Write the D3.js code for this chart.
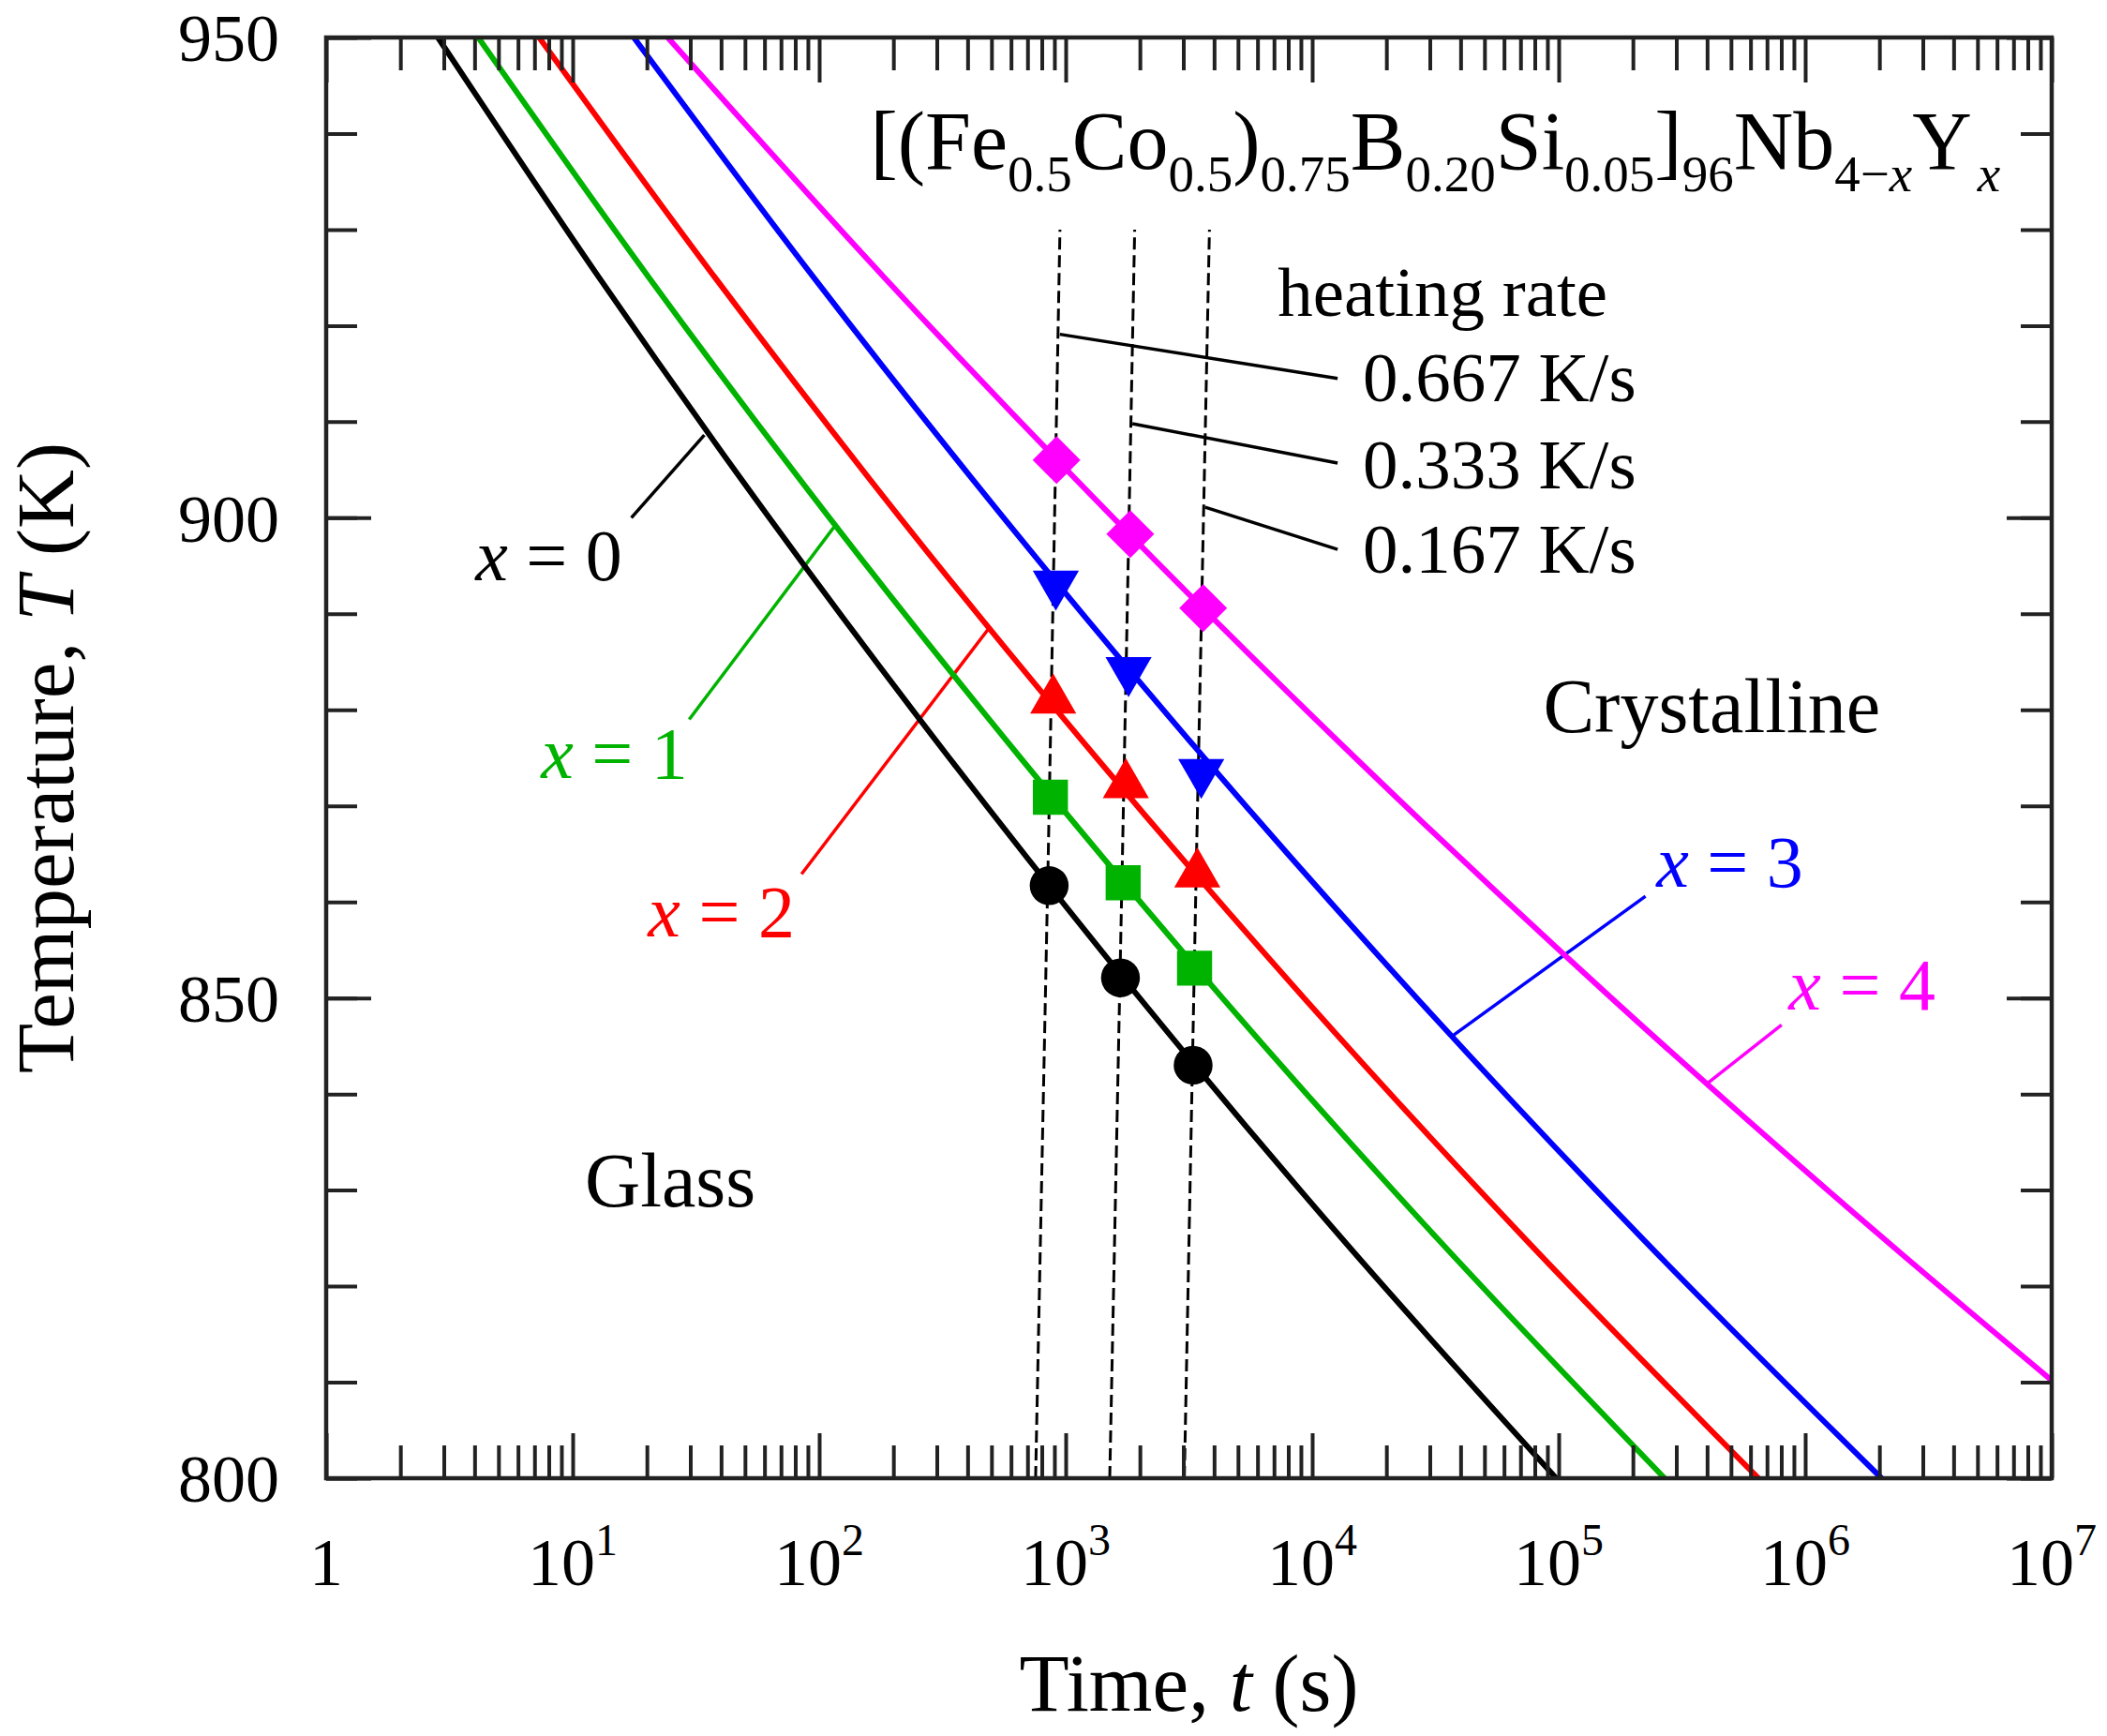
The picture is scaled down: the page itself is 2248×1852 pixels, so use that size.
<!DOCTYPE html>
<html>
<head>
<meta charset="utf-8">
<script src="https://cdn.jsdelivr.net/npm/d3@7"></script>
<style>
  body { margin: 0; background: #fff; }
  svg { display: block; }
  text { font-family: "Liberation Serif", "Times New Roman", serif; fill: #000; }
</style>
</head>
<body>
<div id="chart"></div>
<script>
// Canvas
const width = 2248;
const height = 1852;
const plot = { left: 348, right: 2189, top: 40, bottom: 1577 };

// Series: x in [(Fe0.5Co0.5)0.75B0.20Si0.05]96Nb4-xYx
const seriesX = ["0", "1", "2", "3", "4"];
const seriesColor = ["#000000", "#00b300", "#ff0000", "#0000ff", "#ff00ff"];
const seriesSymbol = ["circle", "square", "triUp", "triDown", "diamond"];

// Curves: temperature (K) and time (s)
const tempGrid = [950, 925, 900, 875, 850, 825, 800];
const tempGridX4 = [950, 925, 900, 875, 850, 825, 810];
const timeX0 = [2.84, 12.8, 62.7, 337, 1995, 13150, 97700];
const timeX1 = [4.14, 20.4, 110, 656, 4325, 32060, 269000];
const timeX2 = [7.31, 37.8, 213, 1334, 9268, 72600, 645700];
const timeX3 = [17.7, 95.1, 560, 3648, 26550, 217800, 2040000];
const timeX4 = [24.3, 184, 1560, 14960, 163700, 2070000, 10200000];

// Measured points (onset of crystallisation) at the three heating rates
const markTimeX0 = [857, 1668, 3289];
const markTempX0 = [861.7, 852.1, 843.0];
const markTimeX1 = [867, 1711, 3333];
const markTempX1 = [870.9, 862.0, 853.1];
const markTimeX2 = [890, 1754, 3420];
const markTempX2 = [881.0, 872.2, 862.9];
const markTimeX3 = [912, 1799, 3548];
const markTempX3 = [893.1, 884.1, 873.5];
const markTimeX4 = [918, 1829, 3612];
const markTempX4 = [906.0, 898.3, 890.6];

// Heating paths (dashed)
const heatingRates = ["0.667", "0.333", "0.167"];
const heatTemp = [800, 865, 930];
const heatTime667 = [755, 850, 948];
const heatTime333 = [1509, 1700, 1905];
const heatTime167 = [3030, 3395, 3830];

// Ticks
const yMajor = [800, 850, 900, 950];
const yMinor = d3.range(800, 951, 10);
const xMajor = d3.range(0, 8).map(e => Math.pow(10, e));
const xMinor = d3.range(0, 7).flatMap(e => d3.range(2, 10).map(m => m * Math.pow(10, e)));

const curves = [
  { temp: tempGrid, time: timeX0 },
  { temp: tempGrid, time: timeX1 },
  { temp: tempGrid, time: timeX2 },
  { temp: tempGrid, time: timeX3 },
  { temp: tempGridX4, time: timeX4 }
];
const marks = [
  { time: markTimeX0, temp: markTempX0 },
  { time: markTimeX1, temp: markTempX1 },
  { time: markTimeX2, temp: markTempX2 },
  { time: markTimeX3, temp: markTempX3 },
  { time: markTimeX4, temp: markTempX4 }
];
const heatPaths = [heatTime667, heatTime333, heatTime167];

// Scales
const x = d3.scaleLog().domain([1, 1e7]).range([plot.left, plot.right]);
const y = d3.scaleLinear().domain([800, 950]).range([plot.bottom, plot.top]);

const svg = d3.select("#chart")
  .append("svg")
  .attr("width", width)
  .attr("height", height)
  .attr("viewBox", `0 0 ${width} ${height}`);

svg.append("clipPath").attr("id", "clip")
  .append("rect")
  .attr("x", plot.left).attr("y", plot.top)
  .attr("width", plot.right - plot.left).attr("height", plot.bottom - plot.top);

const inner = svg.append("g").attr("clip-path", "url(#clip)");

// Dashed heating lines
const line = d3.line().x(d => x(d[0])).y(d => y(d[1]));
heatPaths.forEach(times => {
  inner.append("path")
    .attr("d", line(times.map((t, i) => [t, heatTemp[i]])))
    .attr("fill", "none")
    .attr("stroke", "#000")
    .attr("stroke-width", 3)
    .attr("stroke-dasharray", "13,6");
});

// Leader lines: heating rate labels
const rateLeaders = [
  [[947, 919.1], [12680, 914.5]],
  [[1864, 909.8], [12680, 905.7]],
  [[3681, 901.1], [12680, 896.7]]
];
rateLeaders.forEach(pts => {
  inner.append("path")
    .attr("d", line(pts))
    .attr("stroke", "#000")
    .attr("stroke-width", 3.5)
    .attr("fill", "none");
});

// Leader lines: series labels
const seriesLeaders = [
  [[17.3, 900.0], [34.2, 908.6]],
  [[29.7, 879.0], [114.6, 899.0]],
  [[84.8, 862.9], [485, 888.4]],
  [[225000, 860.6], [37300, 846.1]],
  [[802000, 847.2], [405000, 841.2]]
];
seriesLeaders.forEach((pts, i) => {
  inner.append("path")
    .attr("d", line(pts))
    .attr("stroke", seriesColor[i])
    .attr("stroke-width", 3.5)
    .attr("fill", "none");
});

// Curves
const curveLine = d3.line()
  .x(d => x(d[0]))
  .y(d => y(d[1]))
  .curve(d3.curveMonotoneX);

curves.forEach((c, i) => {
  inner.append("path")
    .attr("d", curveLine(c.time.map((t, j) => [t, c.temp[j]])))
    .attr("fill", "none")
    .attr("stroke", seriesColor[i])
    .attr("stroke-width", 6);
});

// Markers
function symbolPath(kind) {
  if (kind === "circle") return d3.symbol(d3.symbolCircle, 1350)();
  if (kind === "square") return d3.symbol(d3.symbolSquare, 1400)();
  if (kind === "diamond") return d3.symbol(d3.symbolSquare, 1300)();
  return d3.symbol(d3.symbolTriangle, 1050)();
}
function symbolRotate(kind) {
  if (kind === "diamond") return 45;
  if (kind === "triDown") return 180;
  return 0;
}

marks.forEach((m, i) => {
  const kind = seriesSymbol[i];
  svg.append("g").selectAll("path")
    .data(m.time.map((t, j) => [t, m.temp[j]]))
    .join("path")
    .attr("d", symbolPath(kind))
    .attr("transform", d => `translate(${x(d[0])},${y(d[1])}) rotate(${symbolRotate(kind)})`)
    .attr("fill", seriesColor[i]);
});

// Frame
svg.append("rect")
  .attr("x", plot.left).attr("y", plot.top)
  .attr("width", plot.right - plot.left).attr("height", plot.bottom - plot.top)
  .attr("fill", "none")
  .attr("stroke", "#222")
  .attr("stroke-width", 4.5);

// Ticks (inward, on all four sides)
function tickAxis(axis, pos) {
  svg.append("g")
    .attr("transform", pos)
    .call(axis.tickFormat(""))
    .call(g => g.select(".domain").remove())
    .call(g => g.selectAll(".tick line").attr("stroke", "#222").attr("stroke-width", 4));
}
tickAxis(d3.axisBottom(x).tickValues(xMinor).tickSize(-35), `translate(0,${plot.bottom})`);
tickAxis(d3.axisBottom(x).tickValues(xMajor).tickSize(-48), `translate(0,${plot.bottom})`);
tickAxis(d3.axisTop(x).tickValues(xMinor).tickSize(-35), `translate(0,${plot.top})`);
tickAxis(d3.axisTop(x).tickValues(xMajor).tickSize(-48), `translate(0,${plot.top})`);
tickAxis(d3.axisLeft(y).tickValues(yMinor).tickSize(-33), `translate(${plot.left},0)`);
tickAxis(d3.axisLeft(y).tickValues(yMajor).tickSize(-48), `translate(${plot.left},0)`);
tickAxis(d3.axisRight(y).tickValues(yMinor).tickSize(-33), `translate(${plot.right},0)`);
tickAxis(d3.axisRight(y).tickValues(yMajor).tickSize(-48), `translate(${plot.right},0)`);

// Y tick labels
svg.append("g").selectAll("text")
  .data(yMajor)
  .join("text")
  .attr("x", plot.left - 50)
  .attr("y", d => y(d))
  .attr("dy", "0.35em")
  .attr("text-anchor", "end")
  .attr("font-size", 72)
  .text(d => d);

// X tick labels: 1, 10^1 ... 10^7
const xLabels = svg.append("g");
xMajor.forEach((v, e) => {
  const t = xLabels.append("text")
    .attr("x", x(v))
    .attr("y", 1691)
    .attr("text-anchor", "middle")
    .attr("font-size", 72);
  if (e === 0) {
    t.text("1");
  } else {
    t.append("tspan").text("10");
    t.append("tspan").attr("dy", -32).attr("font-size", 48).text(e);
  }
});

// Axis titles
svg.append("text")
  .attr("x", (plot.left + plot.right) / 2)
  .attr("y", 1825)
  .attr("text-anchor", "middle")
  .attr("font-size", 87)
  .call(t => {
    t.append("tspan").text("Time, ");
    t.append("tspan").attr("font-style", "italic").text("t");
    t.append("tspan").text(" (s)");
  });

svg.append("text")
  .attr("transform", `translate(78,${(plot.top + plot.bottom) / 2}) rotate(-90)`)
  .attr("text-anchor", "middle")
  .attr("font-size", 87)
  .call(t => {
    t.append("tspan").text("Temperature, ");
    t.append("tspan").attr("font-style", "italic").text("T");
    t.append("tspan").text(" (K)");
  });

// Composition title with subscripts
const titleParts = [
  ["[(Fe", 0], ["0.5", 1], ["Co", 0], ["0.5", 1], [")", 0], ["0.75", 1],
  ["B", 0], ["0.20", 1], ["Si", 0], ["0.05", 1], ["]", 0], ["96", 1],
  ["Nb", 0], ["4\u2212", 1], ["x", 2], ["Y", 0], ["x", 2]
];
const title = svg.append("text")
  .attr("x", x(161))
  .attr("y", y(936.3))
  .attr("font-size", 88);
let shift = 0;
titleParts.forEach(([s, kind]) => {
  const target = kind ? 24 : 0;
  const ts = title.append("tspan").attr("dy", target - shift).text(s);
  if (kind) ts.attr("font-size", 55);
  if (kind === 2) ts.attr("font-style", "italic");
  if (s === "x" && kind === 2 && shift === 0) ts.attr("dx", 6);
  shift = target;
});

// Plain annotations
const notes = [
  { text: "heating rate", t: 7244, T: 921.0 },
  { text: "0.667 K/s", t: 16030, T: 912.1 },
  { text: "0.333 K/s", t: 16030, T: 903.1 },
  { text: "0.167 K/s", t: 16030, T: 894.3 },
  { text: "Glass", t: 11.2, T: 828.3 },
  { text: "Crystalline", t: 86500, T: 877.7 }
];
svg.append("g").selectAll("text")
  .data(notes)
  .join("text")
  .attr("x", d => x(d.t))
  .attr("y", d => y(d.T))
  .attr("font-size", d => (d.text === "Glass" || d.text === "Crystalline") ? 82 : 75)
  .text(d => d.text);

// Series labels "x = n"
const seriesLabelPos = [
  { t: 4.03, T: 893.5 },
  { t: 7.44, T: 872.95 },
  { t: 20.2, T: 856.4 },
  { t: 249000, T: 861.6 },
  { t: 857000, T: 848.8 }
];
seriesLabelPos.forEach((p, i) => {
  const t = svg.append("text")
    .attr("x", x(p.t))
    .attr("y", y(p.T))
    .attr("font-size", 78)
    .style("fill", seriesColor[i]);
  t.append("tspan").attr("font-style", "italic").text("x");
  t.append("tspan").text(" = " + seriesX[i]);
});
</script>
</body>
</html>
